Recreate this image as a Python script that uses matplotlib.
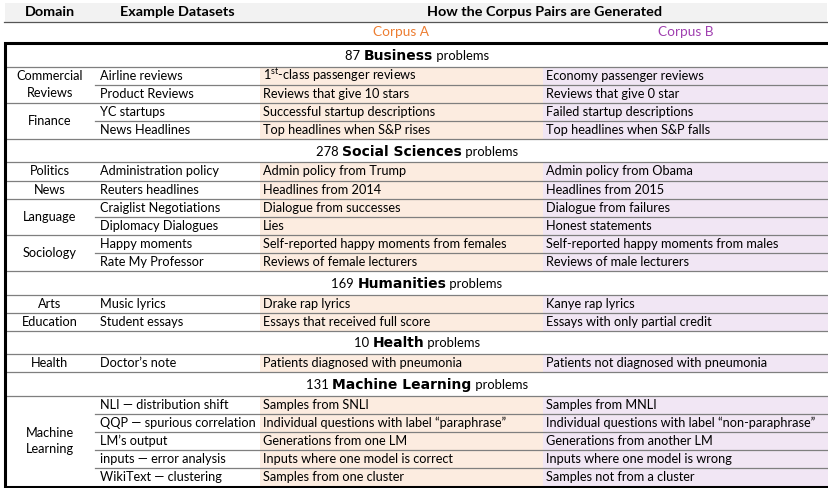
import matplotlib.pyplot as plt
from matplotlib.patches import Rectangle

plt.rcParams['font.family'] = ['Lato', 'DejaVu Sans']
plt.rcParams['mathtext.fontset'] = 'custom'
plt.rcParams['mathtext.rm'] = 'Lato'

# table content
sections = ["Business", "Social Sciences", "Humanities", "Health", "Machine Learning"]
section_counts = [87, 278, 169, 10, 131]

domain_names = ["Commercial\nReviews", "Finance", "Politics", "News", "Language",
                "Sociology", "Arts", "Education", "Health", "Machine\nLearning"]
domain_section = [0, 0, 1, 1, 1, 1, 2, 2, 3, 4]

datasets = ["Airline reviews", "Product Reviews", "YC startups", "News Headlines",
            "Administration policy", "Reuters headlines", "Craiglist Negotiations",
            "Diplomacy Dialogues", "Happy moments", "Rate My Professor",
            "Music lyrics", "Student essays", "Doctor\u2019s note",
            "NLI \u2014 distribution shift", "QQP \u2014 spurious correlation",
            "LM\u2019s output", "inputs \u2014 error analysis", "WikiText \u2014 clustering"]
dataset_domain = [0, 0, 1, 1, 2, 3, 4, 4, 5, 5, 6, 7, 8, 9, 9, 9, 9, 9]

corpus_a = ["1$^{\\mathrm{st}}$-class passenger reviews", "Reviews that give 10 stars",
            "Successful startup descriptions", "Top headlines when S&P rises",
            "Admin policy from Trump", "Headlines from 2014", "Dialogue from successes",
            "Lies", "Self-reported happy moments from females", "Reviews of female lecturers",
            "Drake rap lyrics", "Essays that received full score",
            "Patients diagnosed with pneumonia", "Samples from SNLI",
            "Individual questions with label \u201cparaphrase\u201d", "Generations from one LM",
            "Inputs where one model is correct", "Samples from one cluster"]
corpus_b = ["Economy passenger reviews", "Reviews that give 0 star",
            "Failed startup descriptions", "Top headlines when S&P falls",
            "Admin policy from Obama", "Headlines from 2015", "Dialogue from failures",
            "Honest statements", "Self-reported happy moments from males",
            "Reviews of male lecturers", "Kanye rap lyrics", "Essays with only partial credit",
            "Patients not diagnosed with pneumonia", "Samples from MNLI",
            "Individual questions with label \u201cnon-paraphrase\u201d",
            "Generations from another LM", "Inputs where one model is wrong",
            "Samples not from a cluster"]

W, H = 829, 488
fig = plt.figure(figsize=(W / 100, H / 100), dpi=100)
ax = fig.add_axes([0, 0, 1, 1])
ax.set_xlim(0, W)
ax.set_ylim(H, 0)
ax.axis('off')

x_left, x_dom, x_a, x_b, x_right = 5, 95, 260, 543, 829
fs = 9.2
orange = '#ed7d31'
purple = '#a040b0'
line_c = '#7f7f7f'

# header
ax.add_patch(Rectangle((x_left, 3), x_right - 2 - x_left, 19, color='#f2f2f2', lw=0))
ax.plot([x_left - 1, x_right], [22, 22], color='#555555', lw=0.9)
hy = 12.5
ax.text((x_left + x_dom) / 2, hy, "Domain", ha='center', va='center', fontsize=10.4, fontweight='bold')
ax.text((x_dom + x_a) / 2, hy, "Example Datasets", ha='center', va='center', fontsize=10.4, fontweight='bold')
ax.text((x_a + x_right) / 2, hy, "How the Corpus Pairs are Generated", ha='center', va='center',
        fontsize=10.4, fontweight='bold')
ax.text((x_a + x_b) / 2, 31.5, "Corpus A", ha='center', va='center', fontsize=9.8, color=orange)
ax.text((x_b + x_right) / 2, 31.5, "Corpus B", ha='center', va='center', fontsize=9.8, color=purple)

sec_h, row_h = 23.5, 18.1
y = 43
renderer = fig.canvas.get_renderer()
for s, name in enumerate(sections):
    # section title row, three pieces centred together
    cy = y + sec_h / 2 + 1
    parts = [ax.text(0, cy, f"{section_counts[s]} ", va='center', fontsize=9.4),
             ax.text(0, cy, name, va='center', fontsize=10, fontweight='black',
                     family=['DejaVu Sans']),
             ax.text(0, cy, " problems", va='center', fontsize=9.4)]
    widths = [t.get_window_extent(renderer).width for t in parts]
    x0 = (x_left + x_right) / 2 - sum(widths) / 2
    for t, w in zip(parts, widths):
        t.set_x(x0)
        x0 += w
    y += sec_h
    ax.plot([x_left, x_right], [y, y], color=line_c, lw=0.9)

    rows = [i for i in range(len(datasets)) if domain_section[dataset_domain[i]] == s]
    top = y
    ax.add_patch(Rectangle((x_a, top), x_b - x_a, row_h * len(rows), color='#fcece0', lw=0))
    ax.add_patch(Rectangle((x_b, top), x_right - x_b, row_h * len(rows), color='#f1e6f4', lw=0))
    for k, i in enumerate(rows):
        ry = top + row_h * (k + 0.5)
        ax.text(x_dom + 5, ry, datasets[i], va='center', fontsize=fs)
        ax.text(x_a + 3, ry, corpus_a[i], va='center', fontsize=fs)
        ax.text(x_b + 3, ry, corpus_b[i], va='center', fontsize=fs)
        yb = top + row_h * (k + 1)
        if k < len(rows) - 1:
            same = dataset_domain[rows[k + 1]] == dataset_domain[i]
            ax.plot([x_dom if same else x_left, x_right], [yb, yb], color=line_c, lw=0.9)
    # domain labels centred on their rows
    for d in sorted(set(dataset_domain[i] for i in rows)):
        ks = [k for k, i in enumerate(rows) if dataset_domain[i] == d]
        dy = top + row_h * (ks[0] + ks[-1] + 1) / 2
        ax.text((x_left + x_dom) / 2, dy, domain_names[d], ha='center', va='center',
                fontsize=fs, linespacing=1.45)
    y = top + row_h * len(rows)
    if s < len(sections) - 1:
        ax.plot([x_left, x_right], [y, y], color=line_c, lw=0.9)

# thick outer frame (top, left, bottom)
ax.plot([x_right, x_left, x_left, x_right], [43, 43, y + 1, y + 1], color='black', lw=2.2,
        solid_joinstyle='miter')

fig.savefig('out.png', dpi=100)
